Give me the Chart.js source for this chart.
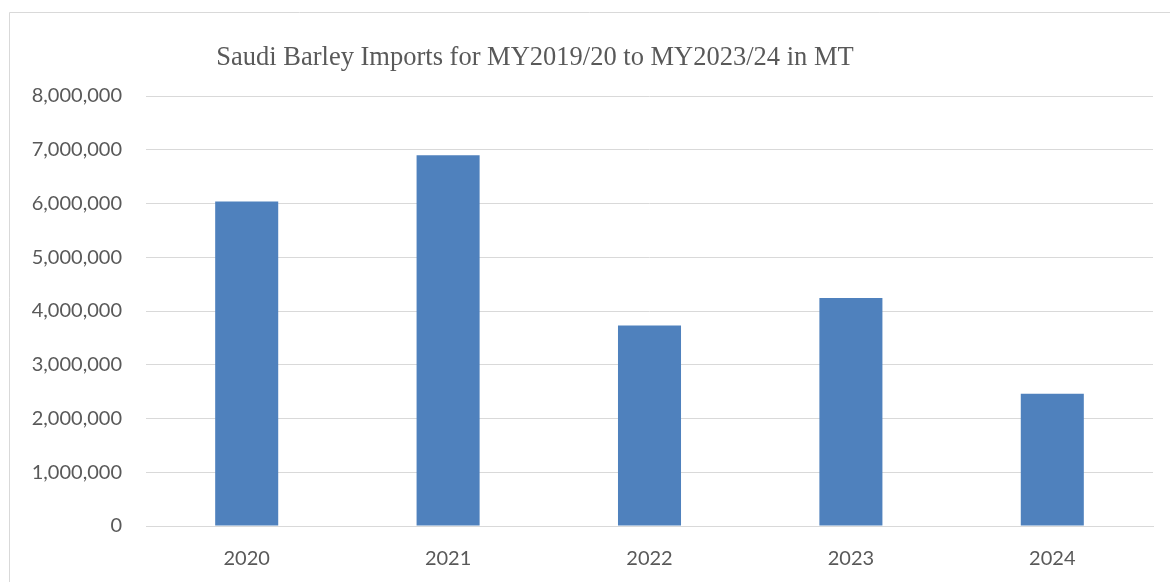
<!DOCTYPE html>
<html>
<head>
<meta charset="utf-8">
<script src="https://cdn.jsdelivr.net/npm/chart.js@4/dist/chart.umd.min.js"></script>
<style>
  html, body { margin: 0; padding: 0; background: #fff; }
  canvas { display: block; }
</style>
</head>
<body>
<canvas id="c" width="1170" height="582"></canvas>
<script>
const titleText = "Saudi Barley Imports for MY2019/20 to MY2023/24 in MT";
const categories = ["2020", "2021", "2022", "2023", "2024"];
const imports = [6036000, 6898000, 3732000, 4241000, 2462000];
const yMin = 0;
const yMax = 8000000;
const yStep = 1000000;

const frameAndTitle = {
  id: 'frameAndTitle',
  beforeDraw(chart) {
    const ctx = chart.ctx;
    ctx.save();
    ctx.fillStyle = '#ffffff';
    ctx.fillRect(0, 0, chart.width, chart.height);
    ctx.strokeStyle = '#d9d9d9';
    ctx.lineWidth = 1;
    ctx.beginPath();
    ctx.moveTo(9.5, chart.height);
    ctx.lineTo(9.5, 12.5);
    ctx.lineTo(chart.width, 12.5);
    ctx.stroke();
    ctx.restore();
  },
  afterDraw(chart) {
    const ctx = chart.ctx;
    ctx.save();
    ctx.font = '26.5px "Liberation Serif", "Times New Roman", serif';
    ctx.fillStyle = '#595959';
    ctx.textAlign = 'center';
    ctx.textBaseline = 'alphabetic';
    ctx.fillText(titleText, 535, 65);
    ctx.restore();
  }
};

new Chart(document.getElementById('c'), {
  type: 'bar',
  data: {
    labels: categories,
    datasets: [{
      data: imports,
      backgroundColor: '#4f81bd',
      borderWidth: 0,
      categoryPercentage: 1,
      barPercentage: 0.313
    }]
  },
  options: {
    responsive: false,
    animation: false,
    layout: { padding: { top: 96, right: 17, bottom: 0, left: 0 } },
    plugins: { legend: { display: false }, tooltip: { enabled: false }, title: { display: false } },
    scales: {
      x: {
        grid: { display: false },
        border: { display: true, color: '#d9d9d9', width: 1 },
        ticks: { font: { family: 'Lato', size: 20 }, color: '#595959', padding: 13 },
        afterFit(s) { s.height = 56; }
      },
      y: {
        min: yMin, max: yMax,
        grid: { color: '#d9d9d9', lineWidth: 1, drawTicks: false },
        border: { display: false },
        ticks: {
          stepSize: yStep,
          padding: 24,
          font: { family: 'Lato', size: 20 },
          color: '#595959',
          callback: v => Number(v).toLocaleString('en-US')
        },
        afterFit(s) { s.width = 146; }
      }
    }
  },
  plugins: [frameAndTitle]
});
</script>
</body>
</html>
